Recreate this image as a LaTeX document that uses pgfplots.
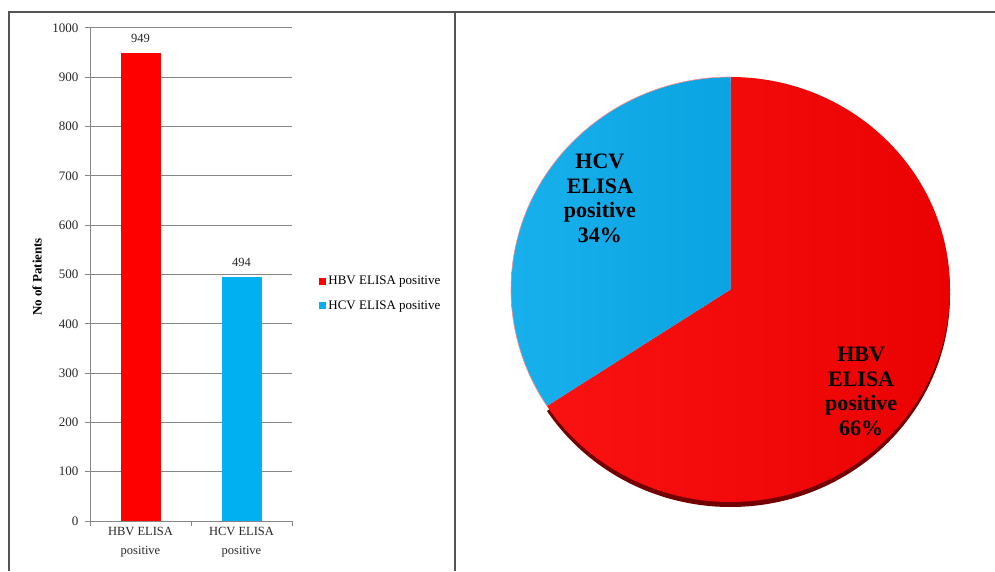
\documentclass[border=0pt]{standalone}
\usepackage{fontspec}
\setmainfont{Liberation Serif}
\usepackage{pgfplots}
\pgfplotsset{compat=1.18}
\definecolor{hbvred}{RGB}{255,0,0}
\definecolor{hcvblue}{RGB}{0,176,240}
\definecolor{gridgray}{RGB}{134,134,134}
\definecolor{framegray}{RGB}{85,85,85}
\definecolor{pieredL}{RGB}{250,18,18}
\definecolor{pieredR}{RGB}{234,2,2}
\definecolor{pieblueL}{RGB}{24,176,236}
\definecolor{pieblueR}{RGB}{10,164,226}
\definecolor{shadowred}{RGB}{115,0,0}
\def\hbvval{949}
\def\hcvval{494}
\begin{document}
\begin{tikzpicture}
\path[use as bounding box] (0,0) rectangle (995pt,571pt);
\draw[framegray, line width=1.6pt] (9pt,0) -- (9pt,559pt) -- (995pt,559pt);
\draw[framegray, line width=1.6pt] (455pt,0) -- (455pt,559pt);

\begin{axis}[
  at={(90pt,50pt)}, anchor=south west,
  scale only axis, width=202pt, height=493pt,
  xmin=-0.5, xmax=1.5, ymin=0, ymax=1000,
  ybar, bar width=40pt, bar shift=0pt,
  ytick={0,100,...,1000},
  xtick={-0.5,0.5,1.5}, xticklabels={},
  extra x ticks={0,1},
  extra x tick labels={{HBV ELISA\\positive},{HCV ELISA\\positive}},
  extra x tick style={major tick length=0pt,
    xticklabel style={align=center, yshift=-3pt, font=\fontsize{12.5}{19}\selectfont, text=black!85}},
  axis x line*=bottom, axis y line*=left,
  axis line style={gridgray, line width=1pt},
  ymajorgrids, grid style={gridgray, line width=1pt},
  tick align=outside, major tick length=5pt,
  tick style={gridgray, line width=1pt},
  /pgf/number format/assume math mode=true,
  /pgf/number format/1000 sep={},
  yticklabel style={font=\fontsize{13}{15}\selectfont, text=black!85, xshift=-3pt},
  ylabel={No of Patients},
  ylabel style={at={(axis description cs:-0.262,0.495)}, anchor=center, font=\fontsize{13}{15}\selectfont\bfseries},
  nodes near coords,
  nodes near coords style={font=\fontsize{12.5}{15}\selectfont, text=black!85, yshift=7pt},
  legend image code/.code={\fill[#1] (-3pt,-3.5pt) rectangle (4pt,3.5pt);},
  legend style={at={(1.12,0.4615)}, anchor=west, draw=none, fill=none,
    font=\fontsize{13}{15}\selectfont, row sep=10pt},
  legend cell align=left,
]
\addplot[fill=hbvred, draw=none] coordinates {(0,949)};
\addlegendentry{HBV ELISA positive}
\addplot[fill=hcvblue, draw=none] coordinates {(1,494)};
\addlegendentry{HCV ELISA positive}
\end{axis}

\pgfmathsetmacro{\hcvang}{360*(\hcvval/(\hbvval+\hcvval))}
\pgfmathsetmacro{\hbvang}{360-\hcvang}
\begin{axis}[
  at={(511pt,69pt)}, anchor=south west,
  scale only axis, width=439pt, height=425pt,
  xmin=-1, xmax=1, ymin=-1, ymax=1,
  hide axis, clip=false,
]
\fill[shadowred, yshift=-5pt] (axis cs:0,0) -- (axis cs:0,1)
  arc[start angle=90, end angle={90-\hbvang}, x radius=219.5pt, y radius=212.5pt] -- cycle;
\shade[left color=pieredL, right color=pieredR] (axis cs:0,0) -- (axis cs:0,1)
  arc[start angle=90, end angle={90-\hbvang}, x radius=219.5pt, y radius=212.5pt] -- cycle;
\shade[left color=pieblueL, right color=pieblueR] (axis cs:0,0) -- (axis cs:0,1)
  arc[start angle=90, end angle={90+\hcvang}, x radius=219.5pt, y radius=212.5pt] -- cycle;
\draw[red!45, line width=0.6pt] (axis cs:0,1)
  arc[start angle=90, end angle={90+\hcvang}, x radius=219.5pt, y radius=212.5pt];
\node[font=\fontsize{22}{24.5}\selectfont\bfseries, align=center, text=black]
  at (axis cs:-0.595,0.43) {HCV\\ELISA\\positive\\34\%};
\node[font=\fontsize{22}{24.5}\selectfont\bfseries, align=center, text=black]
  at (axis cs:0.595,-0.48) {HBV\\ELISA\\positive\\66\%};
\end{axis}
\end{tikzpicture}
\end{document}
